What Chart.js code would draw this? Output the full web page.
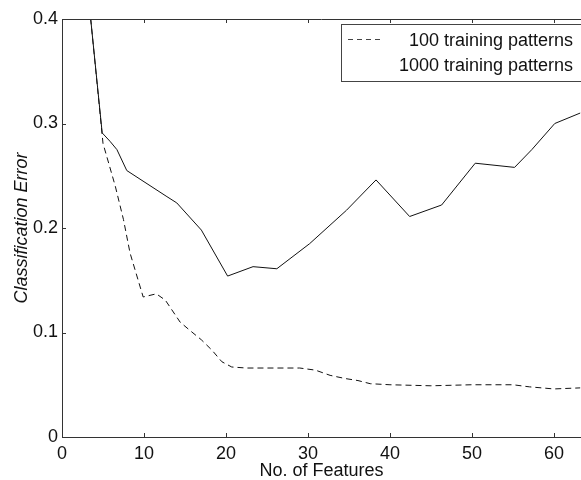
<!DOCTYPE html>
<html>
<head>
<meta charset="utf-8">
<script src="https://cdn.jsdelivr.net/npm/chart.js@4/dist/chart.umd.min.js"></script>
<style>
  html, body { margin: 0; padding: 0; background: #fff; }
  #wrap { width: 581px; height: 480px; position: relative; }
</style>
</head>
<body>
<div id="wrap"><canvas id="chart"></canvas></div>
<script>
// Classification error vs. number of features

const features100 = [1, 3.5, 5, 6.5, 7.5, 8.3, 9.9, 11.5, 12.6, 14.4, 15.6, 17, 18.3, 19.5, 20.7, 22.5, 25.8, 29, 30.9, 32.7, 34.5, 36.1, 37.6, 40, 45, 50, 55, 57, 60, 63.2];
const error100 = [0.4, 0.4, 0.281, 0.24, 0.208, 0.176, 0.134, 0.137, 0.131, 0.110, 0.102, 0.093, 0.083, 0.072, 0.067, 0.066, 0.066, 0.066, 0.064, 0.059, 0.056, 0.054, 0.051, 0.050, 0.049, 0.050, 0.050, 0.048, 0.046, 0.047];

const features1000 = [1, 3.5, 4.9, 5.85, 6.7, 7.9, 12.8, 14, 17, 20.2, 23.3, 26.2, 30.2, 34.7, 38.3, 42.4, 46.3, 50.4, 55.2, 57.3, 60.1, 63.2];
const error1000 = [0.4, 0.4, 0.291, 0.283, 0.275, 0.255, 0.23, 0.224, 0.198, 0.154, 0.163, 0.161, 0.185, 0.217, 0.246, 0.211, 0.222, 0.262, 0.258, 0.275, 0.300, 0.31];

const xTicks = [0, 10, 20, 30, 40, 50, 60];
const yTicks = [0, 0.1, 0.2, 0.3, 0.4];
const legendLabels = ['100 training patterns', '1000 training patterns'];

const toPoints = (xs, ys) => xs.map((x, i) => ({ x, y: ys[i] }));

Chart.defaults.font.family = '"Liberation Sans", Arial, Helvetica, sans-serif';
Chart.defaults.color = '#111';

// frame top edge, inward tick marks and the boxed legend
const framePlugin = {
    id: 'frame',
    afterDraw(chart) {
        const { ctx, chartArea: a, scales: { x, y } } = chart;
        ctx.save();
        ctx.strokeStyle = '#333';
        ctx.lineWidth = 1;
        ctx.beginPath();
        ctx.moveTo(a.left, a.top + 0.5);
        ctx.lineTo(a.right, a.top + 0.5);
        xTicks.slice(1).forEach(v => {
            const px = Math.round(x.getPixelForValue(v)) + 0.5;
            ctx.moveTo(px, a.bottom);
            ctx.lineTo(px, a.bottom - 4);
            ctx.moveTo(px, a.top);
            ctx.lineTo(px, a.top + 4);
        });
        yTicks.slice(1, -1).forEach(v => {
            const py = Math.round(y.getPixelForValue(v)) + 0.5;
            ctx.moveTo(a.left, py);
            ctx.lineTo(a.left + 4, py);
        });
        ctx.stroke();

        // legend box
        ctx.fillStyle = '#fff';
        ctx.fillRect(342, 25, 260, 57);
        ctx.strokeStyle = '#444';
        ctx.strokeRect(341.5, 24.5, 260, 57);
        ctx.beginPath();
        ctx.setLineDash([5, 4]);
        ctx.moveTo(348, 39.5);
        ctx.lineTo(380, 39.5);
        ctx.stroke();
        ctx.setLineDash([]);
        ctx.fillStyle = '#111';
        ctx.font = '18px "Liberation Sans", Arial, sans-serif';
        ctx.textAlign = 'right';
        ctx.textBaseline = 'alphabetic';
        ctx.fillText(legendLabels[0], 573, 46);
        ctx.fillText(legendLabels[1], 573, 71);
        ctx.restore();
    },
};

new Chart(document.getElementById('chart').getContext('2d'), {
    type: 'line',
    data: {
        datasets: [
            {
                label: legendLabels[0],
                data: toPoints(features100, error100),
                borderColor: '#111',
                borderWidth: 1,
                borderDash: [6, 4],
                pointRadius: 0,
                tension: 0,
                fill: false,
            },
            {
                label: legendLabels[1],
                data: toPoints(features1000, error1000),
                borderColor: '#111',
                borderWidth: 1,
                pointRadius: 0,
                tension: 0,
                fill: false,
            },
        ],
    },
    options: {
        responsive: true,
        maintainAspectRatio: false,
        animation: false,
        layout: { padding: { left: 0, top: 19, right: 0, bottom: 0 } },
        plugins: {
            legend: { display: false },
            tooltip: { enabled: false },
        },
        scales: {
            x: {
                type: 'linear',
                min: 0,
                max: 63.3,
                ticks: {
                    stepSize: 10,
                    includeBounds: false,
                    font: { size: 18 },
                    padding: 6,
                    maxRotation: 0,
                },
                grid: { drawOnChartArea: false, drawTicks: false },
                border: { display: true, color: '#333', width: 1 },
                title: {
                    display: true,
                    text: 'No. of Features',
                    font: { size: 18, lineHeight: 1 },
                    padding: { top: 0, bottom: 0 },
                },
                afterFit: scale => { scale.height = 43; },
            },
            y: {
                min: 0,
                max: 0.4,
                ticks: {
                    stepSize: 0.1,
                    font: { size: 18 },
                    padding: 4,
                    callback: v => (v === 0 ? '0' : Number(v).toFixed(1)),
                },
                grid: { drawOnChartArea: false, drawTicks: false },
                border: { display: true, color: '#333', width: 1 },
                title: {
                    display: true,
                    text: 'Classification Error',
                    font: { size: 18, style: 'italic', lineHeight: 1 },
                    padding: { top: 13, bottom: 0 },
                },
                afterFit: scale => { scale.width = 62; },
            },
        },
    },
    plugins: [framePlugin],
});
</script>
</body>
</html>
